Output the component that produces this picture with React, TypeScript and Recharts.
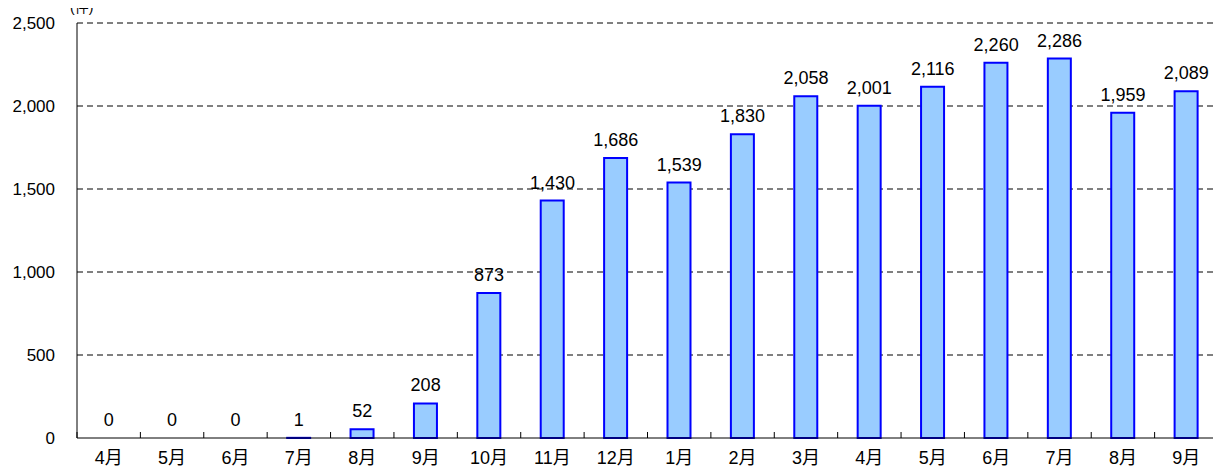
import { Bar, CartesianGrid, ComposedChart, LabelList, Line, XAxis, YAxis } from "recharts";

const months = ["4月", "5月", "6月", "7月", "8月", "9月", "10月", "11月", "12月", "1月", "2月", "3月", "4月", "5月", "6月", "7月", "8月", "9月"];
const counts = [0, 0, 0, 1, 52, 208, 873, 1430, 1686, 1539, 1830, 2058, 2001, 2116, 2260, 2286, 1959, 2089];
const yTicks = [0, 500, 1000, 1500, 2000, 2500];

const data = months.map((m, i) => ({ key: `${i}`, month: m, count: counts[i] }));

const W = 1221;
const H = 475;
const LEFT = 77;
const RIGHT = 3;
const TOP = 23;
const BOTTOM = 7;
const X_AXIS_H = 30;
const AXIS_Y = H - BOTTOM - X_AXIS_H;
const BAND = (W - LEFT - RIGHT) / months.length;

const font = "'Liberation Sans', Arial, sans-serif";
const cjkFont = "'Liberation Sans', 'Noto Sans CJK JP', sans-serif";

function MonthTick(props: any) {
  const { x, index } = props;
  const half = BAND / 2;
  return (
    <g>
      <line x1={x - half} y1={AXIS_Y} x2={x - half} y2={AXIS_Y - 6} stroke="#000" />
      {index === months.length - 1 && <line x1={x + half} y1={AXIS_Y} x2={x + half} y2={AXIS_Y - 6} stroke="#000" />}
      <text x={x} y={AXIS_Y + 26} textAnchor="middle" fill="#000" fontSize={18} fontFamily={cjkFont}>
        {months[index]}
      </text>
    </g>
  );
}

function ValueLabel(props: any) {
  const { x, y, value } = props;
  return (
    <text x={x} y={y - 12} textAnchor="middle" fill="#000" fontSize={18} fontFamily={font}>
      {Number(value).toLocaleString("en-US")}
    </text>
  );
}

export default function App() {
  return (
    <div style={{ position: "relative", margin: -8, width: W, height: H, overflow: "hidden", background: "#fff" }}>
      <div style={{ position: "absolute", left: 70, top: 0, fontSize: 14, lineHeight: "15px", fontFamily: cjkFont }}>
        (件)
      </div>
      <ComposedChart width={W} height={H} data={data} margin={{ top: TOP, right: RIGHT, bottom: BOTTOM, left: 0 }} barCategoryGap={0}>
        <CartesianGrid vertical={false} stroke="#000" strokeDasharray="6 4" horizontalValues={[500, 1000, 1500, 2000, 2500]} />
        <XAxis
          dataKey="key"
          tickLine={false}
          tickSize={0}
          tickMargin={0}
          axisLine={{ stroke: "#000" }}
          tick={<MonthTick />}
          interval={0}
          height={X_AXIS_H}
        />
        <YAxis
          width={LEFT}
          domain={[0, 2500]}
          ticks={yTicks}
          tickFormatter={(v: number) => v.toLocaleString("en-US")}
          tickLine={false}
          tickSize={0}
          tickMargin={22}
          axisLine={{ stroke: "#000" }}
          tick={{ fill: "#000", fontSize: 17, fontFamily: font }}
        />
        <Bar dataKey="count" fill="#99CCFF" stroke="#0000FF" strokeWidth={2} barSize={23} isAnimationActive={false} />
        <Line
          dataKey="count"
          stroke="none"
          dot={false}
          activeDot={false}
          legendType="none"
          isAnimationActive={false}
        >
          <LabelList dataKey="count" content={<ValueLabel />} />
        </Line>
      </ComposedChart>
    </div>
  );
}
